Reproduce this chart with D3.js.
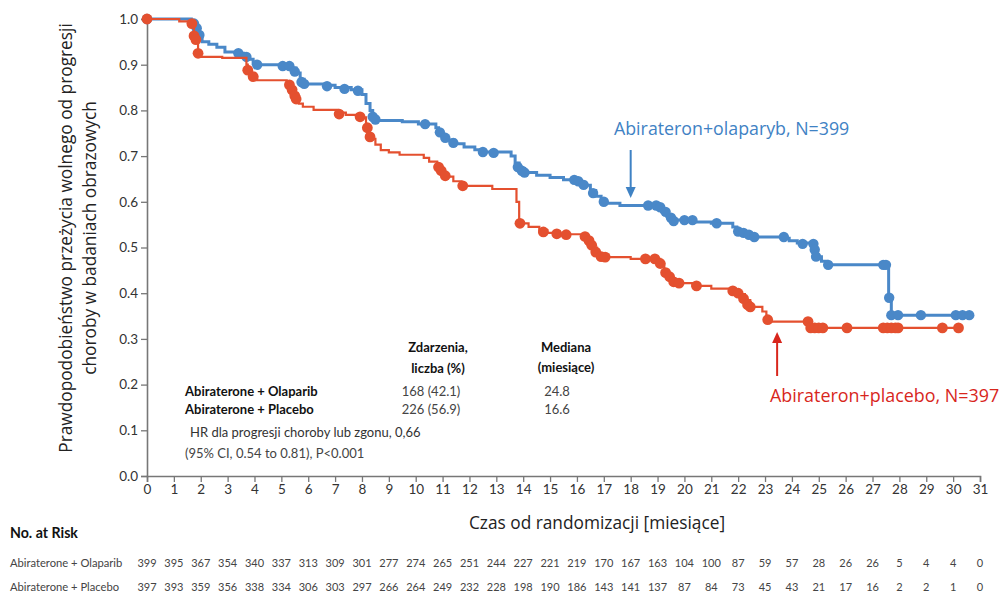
<!DOCTYPE html>
<html><head><meta charset="utf-8">
<script src="https://cdn.jsdelivr.net/npm/d3@7"></script>
<style>body{margin:0;background:#fff}svg{display:block}</style>
</head><body>
<svg id="c" width="1000" height="593"></svg>
<script>
// ---------- DATA ----------
const xTicks = d3.range(0, 32);
const yTicks = [0,0.1,0.2,0.3,0.4,0.5,0.6,0.7,0.8,0.9,1.0];

const olaparibSteps = [[0,1.0],[1.65,0.995],[1.75,0.985],[1.85,0.975],[1.95,0.96],[2.05,0.95],[2.3,0.945],[2.6,0.938],[2.9,0.928],[3.3,0.925],[3.6,0.92],[3.75,0.912],[3.95,0.902],[4.1,0.9],[5.4,0.893],[5.55,0.882],[5.7,0.868],[5.85,0.858],[6.6,0.855],[7.0,0.85],[7.6,0.845],[8.0,0.835],[8.15,0.815],[8.3,0.8],[8.4,0.786],[8.55,0.778],[9.5,0.775],[10.1,0.77],[10.75,0.762],[10.85,0.752],[11.0,0.742],[11.2,0.735],[11.45,0.727],[11.8,0.72],[12.2,0.714],[12.5,0.709],[13.55,0.7],[13.7,0.685],[13.85,0.673],[14.05,0.664],[14.5,0.658],[15.0,0.653],[15.5,0.648],[16.1,0.643],[16.3,0.636],[16.5,0.625],[16.7,0.612],[16.9,0.603],[17.1,0.597],[17.6,0.592],[18.9,0.588],[19.15,0.578],[19.35,0.568],[19.55,0.56],[20.4,0.556],[21.0,0.553],[21.8,0.545],[21.95,0.535],[22.4,0.528],[22.6,0.523],[23.7,0.52],[23.9,0.515],[24.2,0.51],[24.8,0.505],[24.85,0.495],[24.9,0.48],[25.1,0.47],[25.3,0.462],[27.6,0.39],[27.7,0.352],[30.6,0.352]];
const olaparibCensored = [[0,1.0],[1.75,0.99],[1.85,0.98],[1.95,0.965],[3.4,0.925],[3.7,0.917],[4.1,0.9],[5.05,0.897],[5.3,0.897],[5.5,0.885],[5.75,0.862],[5.85,0.858],[6.7,0.853],[7.35,0.847],[7.85,0.843],[8.4,0.786],[8.5,0.78],[10.35,0.77],[10.9,0.752],[11.1,0.74],[11.4,0.729],[12.5,0.709],[12.9,0.707],[13.8,0.676],[13.95,0.668],[14.05,0.664],[15.9,0.648],[16.05,0.645],[16.25,0.637],[16.6,0.619],[17.0,0.6],[18.65,0.592],[18.95,0.592],[19.1,0.588],[19.3,0.578],[19.5,0.565],[19.6,0.558],[20.0,0.56],[20.3,0.56],[21.2,0.553],[22.0,0.535],[22.2,0.532],[22.4,0.528],[22.6,0.523],[23.7,0.523],[24.4,0.508],[24.8,0.508],[24.85,0.495],[24.9,0.48],[25.35,0.462],[27.4,0.462],[27.5,0.462],[27.62,0.39],[27.7,0.352],[27.95,0.352],[28.8,0.352],[30.1,0.352],[30.35,0.352],[30.6,0.352]];

const placeboSteps = [[0,1.0],[1.2,0.995],[1.7,0.985],[1.75,0.963],[1.85,0.95],[1.9,0.925],[2.0,0.917],[2.8,0.915],[3.7,0.9],[3.75,0.888],[3.9,0.874],[4.1,0.866],[5.2,0.86],[5.3,0.852],[5.4,0.84],[5.5,0.827],[5.65,0.815],[5.8,0.808],[6.2,0.801],[7.1,0.795],[7.4,0.79],[8.0,0.785],[8.15,0.765],[8.25,0.748],[8.35,0.738],[8.5,0.725],[8.7,0.713],[9.0,0.708],[9.4,0.703],[10.3,0.696],[10.5,0.688],[10.8,0.676],[10.95,0.665],[11.1,0.655],[11.4,0.645],[11.7,0.635],[12.85,0.628],[13.75,0.6],[13.85,0.553],[14.2,0.545],[14.6,0.538],[14.9,0.532],[15.3,0.529],[16.3,0.524],[16.45,0.512],[16.6,0.5],[16.75,0.488],[16.95,0.479],[18.0,0.475],[19.1,0.465],[19.25,0.45],[19.4,0.437],[19.55,0.428],[19.7,0.422],[20.3,0.416],[21.0,0.41],[21.8,0.405],[22.05,0.398],[22.25,0.385],[22.45,0.37],[22.9,0.36],[23.05,0.346],[23.15,0.338],[24.65,0.324],[30.2,0.324]];
const placeboCensored = [[0,1.0],[1.67,0.99],[1.75,0.963],[1.82,0.955],[1.9,0.925],[3.75,0.888],[3.95,0.874],[5.3,0.856],[5.4,0.845],[5.5,0.832],[5.55,0.825],[7.15,0.792],[7.93,0.786],[8.2,0.762],[8.3,0.742],[10.85,0.676],[10.95,0.668],[11.1,0.657],[11.75,0.635],[13.88,0.553],[14.75,0.534],[15.25,0.53],[15.6,0.528],[16.3,0.524],[16.45,0.515],[16.55,0.505],[16.7,0.49],[16.9,0.48],[17.05,0.479],[18.55,0.475],[18.9,0.475],[19.1,0.465],[19.3,0.445],[19.45,0.436],[19.6,0.425],[19.8,0.422],[20.45,0.416],[21.8,0.405],[22.0,0.4],[22.2,0.388],[22.35,0.375],[22.45,0.37],[23.1,0.342],[24.6,0.338],[24.7,0.324],[24.85,0.324],[25.0,0.324],[25.15,0.324],[26.05,0.324],[27.4,0.324],[27.55,0.324],[27.7,0.324],[27.85,0.324],[27.95,0.324],[29.6,0.324],[30.2,0.324]];

const riskLabels = ["Abiraterone + Olaparib","Abiraterone + Placebo"];
const riskOlaparib = [399,395,367,354,340,337,313,309,301,277,274,265,251,244,227,221,219,170,167,163,104,100,87,59,57,28,26,26,5,4,4,0];
const riskPlacebo  = [397,393,359,356,338,334,306,303,297,266,264,249,232,228,198,190,186,143,141,137,87,84,73,45,43,21,17,16,2,2,1,0];

const tableRows = [["Abiraterone + Olaparib","168 (42.1)","24.8"],["Abiraterone + Placebo","226 (56.9)","16.6"]];
const hrLines = ["HR dla progresji choroby lub zgonu, 0,66","(95% CI, 0.54 to 0.81), P<0.001"];
const yTitle = ["Prawdopodobieństwo przeżycia wolnego od progresji","choroby w badaniach obrazowych"];
const xTitle = "Czas od randomizacji [miesiące]";
const blueLabel = "Abirateron+olaparyb, N=399";
const redLabel = "Abirateron+placebo, N=397";

// ---------- DRAW ----------
const svg = d3.select("#c");
const BLUE = "#4a88c8", RED = "#e4502f";
const x = d3.scaleLinear().domain([0,31]).range([147,980]);
const y = d3.scaleLinear().domain([0,1]).range([476,19]);
const F = "Lato, 'Open Sans', sans-serif";

// axes
const gy = svg.append("g").attr("transform","translate(147,0)")
  .call(d3.axisLeft(y).tickValues(yTicks).tickFormat(d3.format(".1f")).tickSize(6).tickPadding(3));
const gx = svg.append("g").attr("transform","translate(0,476)")
  .call(d3.axisBottom(x).tickValues(xTicks).tickSize(6).tickPadding(2));
[gy,gx].forEach(g=>{
  g.select(".domain").attr("stroke","#777").attr("stroke-width",1.6);
  g.selectAll(".tick line").attr("stroke","#777").attr("stroke-width",1.3);
  g.selectAll(".tick text").attr("fill","#333").style("font-family",F).style("font-size","13.5px");
});

// curves
const line = d3.line().x(d=>x(d[0])).y(d=>y(d[1])).curve(d3.curveStepAfter);
svg.append("path").datum(olaparibSteps).attr("d",line).attr("fill","none").attr("stroke",BLUE).attr("stroke-width",3);
svg.selectAll(".cb").data(olaparibCensored).enter().append("circle")
  .attr("cx",d=>x(d[0])).attr("cy",d=>y(d[1])).attr("r",5.2).attr("fill",BLUE);
svg.append("path").datum(placeboSteps).attr("d",line).attr("fill","none").attr("stroke",RED).attr("stroke-width",2.2);
svg.selectAll(".cr").data(placeboCensored).enter().append("circle")
  .attr("cx",d=>x(d[0])).attr("cy",d=>y(d[1])).attr("r",5.4).attr("fill",RED);

// y title
const yt = svg.append("text").attr("transform","translate(72,238) rotate(-90)")
  .attr("text-anchor","middle").attr("fill","#222").style("font-family","'Open Sans', sans-serif").style("font-size","17.3px");
yt.selectAll("tspan").data(yTitle).enter().append("tspan")
  .attr("x",0).attr("dy",(d,i)=>i?24:0).text(d=>d);

// x title
svg.append("text").attr("x",597).attr("y",529).attr("text-anchor","middle").attr("fill","#222")
  .style("font-family","'Open Sans', sans-serif").style("font-size","17.3px").text(xTitle);

// annotations
svg.append("text").attr("x",614).attr("y",135).attr("fill","#3f82c4")
  .style("font-family","'Open Sans', sans-serif").style("font-size","17.8px").text(blueLabel);
svg.append("text").attr("x",770).attr("y",402).attr("fill","#d8261c")
  .style("font-family","'Open Sans', sans-serif").style("font-size","17.9px").text(redLabel);
function arrow(x1,y1,x2,y2,col){
  svg.append("line").attr("x1",x1).attr("y1",y1).attr("x2",x2).attr("y2",y2+(y2>y1?-8:8)).attr("stroke",col).attr("stroke-width",2);
  const s = y2>y1?-1:1;
  svg.append("path").attr("d",`M${x2},${y2} L${x2-5},${y2+s*11} L${x2+5},${y2+s*11} Z`).attr("fill",col);
}
arrow(x(18),150,x(18),198,"#3f82c4");
arrow(x(23.45),376,x(23.45),332,"#d8261c");

// inset table
const tF = "Lato, sans-serif";
function txt(t,xx,yy,opt={}){
  return svg.append("text").attr("x",xx).attr("y",yy).attr("text-anchor",opt.anchor||"start")
    .attr("fill",opt.fill||"#333").style("font-family",tF).style("font-size",(opt.size||13)+"px")
    .style("font-weight",opt.bold?"bold":"normal").text(t);
}
txt("Zdarzenia,",438,352,{anchor:"middle",bold:true,fill:"#111"});
txt("liczba (%)",438,373,{anchor:"middle",bold:true,fill:"#111"});
txt("Mediana",566,352,{anchor:"middle",bold:true,fill:"#111"});
txt("(miesiące)",566,372,{anchor:"middle",bold:true,fill:"#111"});
tableRows.forEach((r,i)=>{
  txt(r[0],185,396+i*18,{bold:true,fill:"#111"});
  txt(r[1],431,396+i*18,{anchor:"middle",fill:"#444"});
  txt(r[2],557,396+i*18,{anchor:"middle",fill:"#444"});
});
txt(hrLines[0],190,437,{fill:"#333"});
txt(hrLines[1],185,458,{fill:"#444"});

// risk table
txt("No. at Risk",10,538,{bold:true,fill:"#111",size:14.2});
[riskOlaparib,riskPlacebo].forEach((row,i)=>{
  const yy = 567+i*24;
  txt(riskLabels[i],10,yy,{size:11.2,fill:"#444"});
  svg.selectAll(null).data(row).enter().append("text")
    .attr("x",(d,j)=>x(xTicks[j])).attr("y",yy).attr("text-anchor","middle")
    .attr("fill","#444").style("font-family",tF).style("font-size","11px").text(d=>d);
});
</script>
</body></html>
